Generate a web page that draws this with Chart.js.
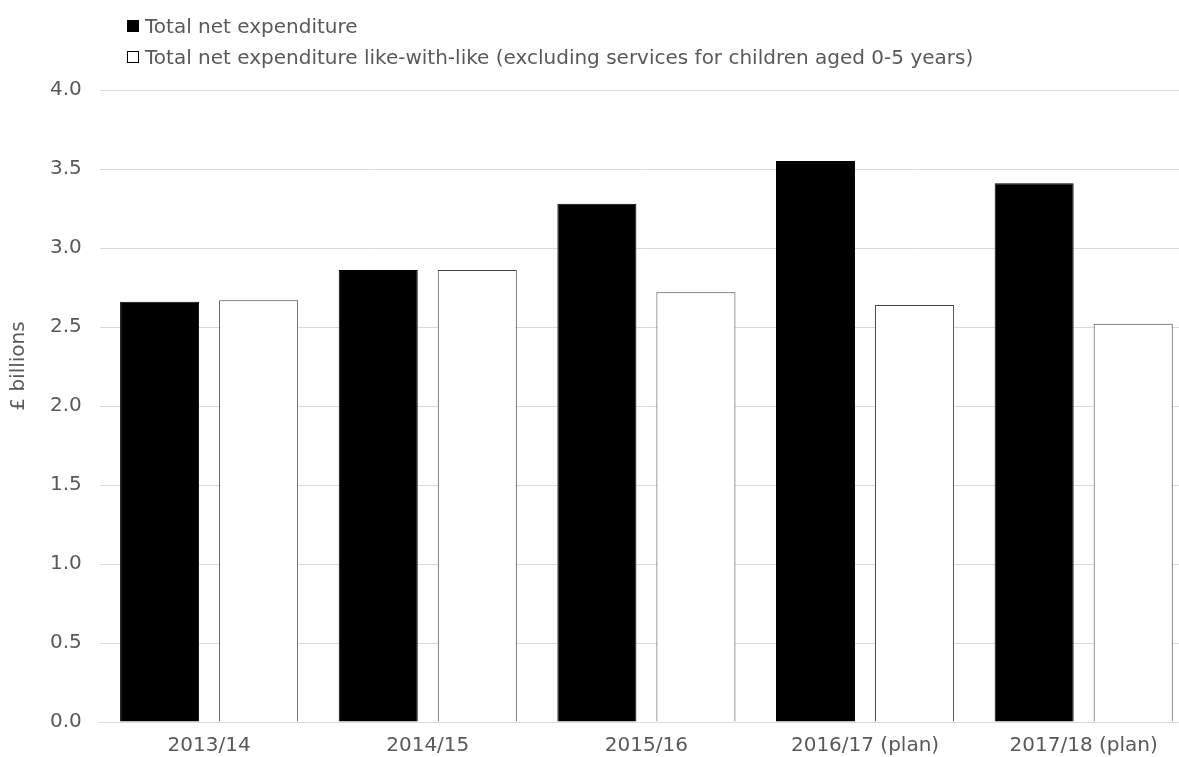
<!DOCTYPE html>
<html>
<head>
<meta charset="utf-8">
<script src="https://cdn.jsdelivr.net/npm/chart.js@4/dist/chart.umd.min.js"></script>
<style>
  html, body { margin: 0; padding: 0; background: #fff; overflow: hidden; }
  #wrap { position: relative; width: 1179px; height: 757px; overflow: hidden; }
  #legend { position: absolute; left: 127px; top: 10px; font-family: 'DejaVu Sans', Verdana, sans-serif; font-size: 20px; color: #595959; }
  #legend .row { display: flex; align-items: center; height: 31px; white-space: nowrap; }
  #legend .box { width: 12px; height: 12px; box-sizing: border-box; margin-right: 6px; }
</style>
</head>
<body>
<div id="wrap">
  <canvas id="chart" width="1193" height="770"></canvas>
  <div id="legend"></div>
</div>
<script>
// years shown on the x axis
const years = ["2013/14", "2014/15", "2015/16", "2016/17 (plan)", "2017/18 (plan)"];
// £ billions
const totalNet = [2.66, 2.86, 3.28, 3.55, 3.41];
const likeForLike = [2.67, 2.86, 2.72, 2.64, 2.52];
const seriesNames = [
  "Total net expenditure",
  "Total net expenditure like-with-like (excluding services for children aged 0-5 years)"
];
const yTitle = "£ billions";

const textGrey = "#595959";
const gridGrey = "#d9d9d9";
const fontFamily = "'DejaVu Sans', Verdana, sans-serif";
const font = { family: fontFamily, size: 20 };

// legend as html rows, one per dataset
const htmlLegend = {
  id: "htmlLegend",
  afterUpdate(chart) {
    const box = document.getElementById("legend");
    box.innerHTML = "";
    chart.data.datasets.forEach((ds) => {
      const row = document.createElement("div");
      row.className = "row";
      const sw = document.createElement("span");
      sw.className = "box";
      sw.style.background = ds.backgroundColor;
      sw.style.border = "1px solid #000";
      const txt = document.createElement("span");
      txt.textContent = ds.label;
      row.appendChild(sw);
      row.appendChild(txt);
      box.appendChild(row);
    });
  },
};

// y axis title sits a bit above the middle of the plot, like the original
const yTitlePlugin = {
  id: "yTitle",
  afterDraw(chart) {
    const { ctx, chartArea } = chart;
    const mid = (chartArea.top + chartArea.bottom) / 2 - 40;
    ctx.save();
    ctx.translate(19, mid);
    ctx.rotate(-Math.PI / 2);
    ctx.font = "20px " + fontFamily;
    ctx.fillStyle = textGrey;
    ctx.textAlign = "center";
    ctx.textBaseline = "middle";
    ctx.fillText(yTitle, 0, 0);
    ctx.restore();
  },
};

new Chart(document.getElementById("chart"), {
  type: "bar",
  data: {
    labels: years,
    datasets: [
      {
        label: seriesNames[0],
        data: totalNet,
        backgroundColor: "#000000",
        borderColor: "#000000",
        borderWidth: 1,
      },
      {
        label: seriesNames[1],
        data: likeForLike,
        backgroundColor: "#ffffff",
        borderColor: "#404040",
        borderWidth: 1,
      },
    ],
  },
  plugins: [htmlLegend, yTitlePlugin],
  options: {
    responsive: false,
    animation: false,
    categoryPercentage: 0.906,
    barPercentage: 0.798,
    layout: { padding: { top: 90, left: 32, right: 0, bottom: 0 } },
    plugins: {
      tooltip: { enabled: false },
      legend: { display: false },
    },
    scales: {
      x: {
        grid: { display: false, drawTicks: false },
        border: { display: true, color: gridGrey },
        ticks: { color: textGrey, font: font, padding: 12, maxRotation: 0, autoSkip: false },
      },
      y: {
        min: 0,
        max: 4,
        grid: { color: gridGrey, drawTicks: false },
        border: { display: false },
        ticks: {
          stepSize: 0.5,
          color: textGrey,
          font: font,
          padding: 18,
          callback: (v) => v.toFixed(1),
        },
      },
    },
  },
});
</script>
</body>
</html>
